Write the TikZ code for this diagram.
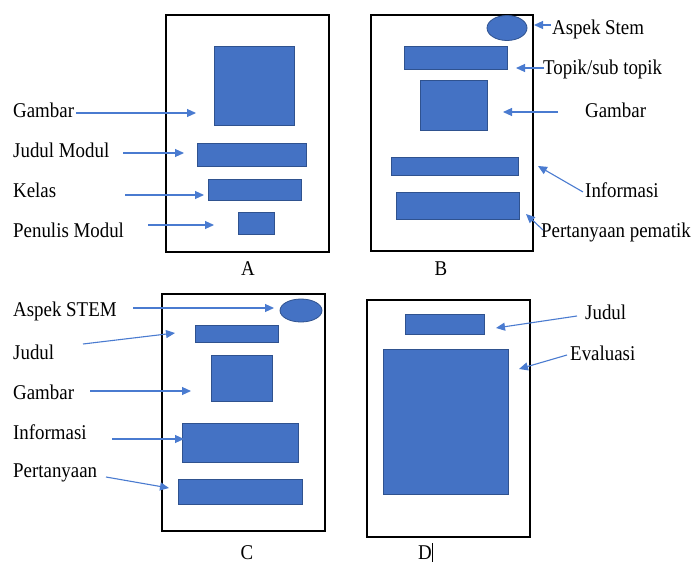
\documentclass[tikz,border=0pt]{standalone}
\usepackage{fontspec}
\setmainfont{Liberation Serif}[FakeStretch=0.9]
\usetikzlibrary{arrows.meta}
\definecolor{boxblue}{HTML}{4472C4}
\definecolor{boxedge}{HTML}{2F528F}
\definecolor{arrblue}{HTML}{4A7BD0}
\begin{document}
\begin{tikzpicture}[x=1pt,y=-1pt,
  frame/.style={draw=black,line width=1.2pt},
  blk/.style={draw=boxedge,fill=boxblue,line width=0.8pt},
  lbl/.style={anchor=west,inner sep=0pt,font=\fontsize{21}{24}\selectfont},
  panelcap/.style={anchor=base,inner sep=0pt,font=\fontsize{21}{24}\selectfont},
  arr/.style={draw=arrblue,line width=1.1pt,-{Triangle[length=9pt,width=8pt]}}]
\useasboundingbox (0,0) rectangle (696,562);
% ---------- Panel A ----------
\draw[frame] (166,15) rectangle (329,252);
\draw[blk] (214,46) rectangle (294,125);
\draw[blk] (197,143) rectangle (306,166);
\draw[blk] (208,179) rectangle (301,200);
\draw[blk] (238,212) rectangle (274,234);
\node[lbl] (aG) at (13,110) {Gambar};
\node[lbl] (aJ) at (13,150) {Judul Modul};
\node[lbl] (aK) at (13,190) {Kelas};
\node[lbl] (aP) at (13,230) {Penulis Modul};
\node[panelcap] (aC) at (248,275) {A};
\coordinate (aG1) at (76,113); \coordinate (aG2) at (196,113);
\coordinate (aJ1) at (123,153); \coordinate (aJ2) at (184,153);
\coordinate (aK1) at (125,195); \coordinate (aK2) at (204,195);
\coordinate (aP1) at (148,225); \coordinate (aP2) at (214,225);
\draw[arr] (aG1) -- (aG2);
\draw[arr] (aJ1) -- (aJ2);
\draw[arr] (aK1) -- (aK2);
\draw[arr] (aP1) -- (aP2);
% ---------- Panel B ----------
\draw[frame] (371,15) rectangle (533,251);
\draw[blk] (507,28) ellipse [x radius=20,y radius=12.5];
\draw[blk] (404,46) rectangle (507,69);
\draw[blk] (420,80) rectangle (487,130);
\draw[blk] (391,157) rectangle (518,175);
\draw[blk] (396,192) rectangle (519,219);
\node[lbl] (bA) at (552,29) {Aspek Stem};
\node[lbl] (bT) at (543,69) {Topik/sub topik};
\node[lbl] (bG) at (585,110) {Gambar};
\node[lbl] (bI) at (585,190) {Informasi};
\node[lbl] (bP) at (541,232) {Pertanyaan pematik};
\node[panelcap] (bC) at (441,275) {B};
\coordinate (bA1) at (551,25); \coordinate (bA2) at (534,25);
\coordinate (bT1) at (544,68); \coordinate (bT2) at (516,68);
\coordinate (bG1) at (558,112); \coordinate (bG2) at (503,112);
\coordinate (bI1) at (583,192); \coordinate (bI2) at (538,166);
\coordinate (bP1) at (543,230); \coordinate (bP2) at (526,214);
\draw[arr] (bA1) -- (bA2);
\draw[arr] (bT1) -- (bT2);
\draw[arr] (bG1) -- (bG2);
\draw[arr] (bI1) -- (bI2);
\draw[arr] (bP1) -- (bP2);
% ---------- Panel C ----------
\draw[frame] (162,294) rectangle (325,531);
\draw[blk] (301,310.5) ellipse [x radius=21,y radius=11.5];
\draw[blk] (195,325) rectangle (278,342);
\draw[blk] (211,355) rectangle (272,401);
\draw[blk] (182,423) rectangle (298,462);
\draw[blk] (178,479) rectangle (302,504);
\node[lbl] (cA) at (13,311) {Aspek STEM};
\node[lbl] (cJ) at (13,352) {Judul};
\node[lbl] (cG) at (13,392) {Gambar};
\node[lbl] (cI) at (13,432) {Informasi};
\node[lbl] (cP) at (13,473) {Pertanyaan};
\node[panelcap] (cC) at (247,559) {C};
\coordinate (cA1) at (133,308); \coordinate (cA2) at (274,308);
\coordinate (cJ1) at (83,344); \coordinate (cJ2) at (175,333);
\coordinate (cG1) at (90,391); \coordinate (cG2) at (191,391);
\coordinate (cI1) at (112,439); \coordinate (cI2) at (184,439);
\coordinate (cP1) at (106,477); \coordinate (cP2) at (169,488);
\draw[arr] (cA1) -- (cA2);
\draw[arr] (cJ1) -- (cJ2);
\draw[arr] (cG1) -- (cG2);
\draw[arr] (cI1) -- (cI2);
\draw[arr] (cP1) -- (cP2);
% ---------- Panel D ----------
\draw[frame] (367,300) rectangle (530,537);
\draw[blk] (405,314) rectangle (484,334);
\draw[blk] (383,349) rectangle (508,494);
\node[lbl] (dJ) at (585,312) {Judul};
\node[lbl] (dE) at (570,353) {Evaluasi};
\node[panelcap] (dC) at (425,559) {D};
\coordinate (cur1) at (432,543); \coordinate (cur2) at (432,562);
\draw[black,line width=0.8pt] (cur1) -- (cur2);
\coordinate (dJ1) at (577,316); \coordinate (dJ2) at (496,328);
\coordinate (dE1) at (567,355); \coordinate (dE2) at (519,369);
\draw[arr] (dJ1) -- (dJ2);
\draw[arr] (dE1) -- (dE2);
\end{tikzpicture}
\end{document}
